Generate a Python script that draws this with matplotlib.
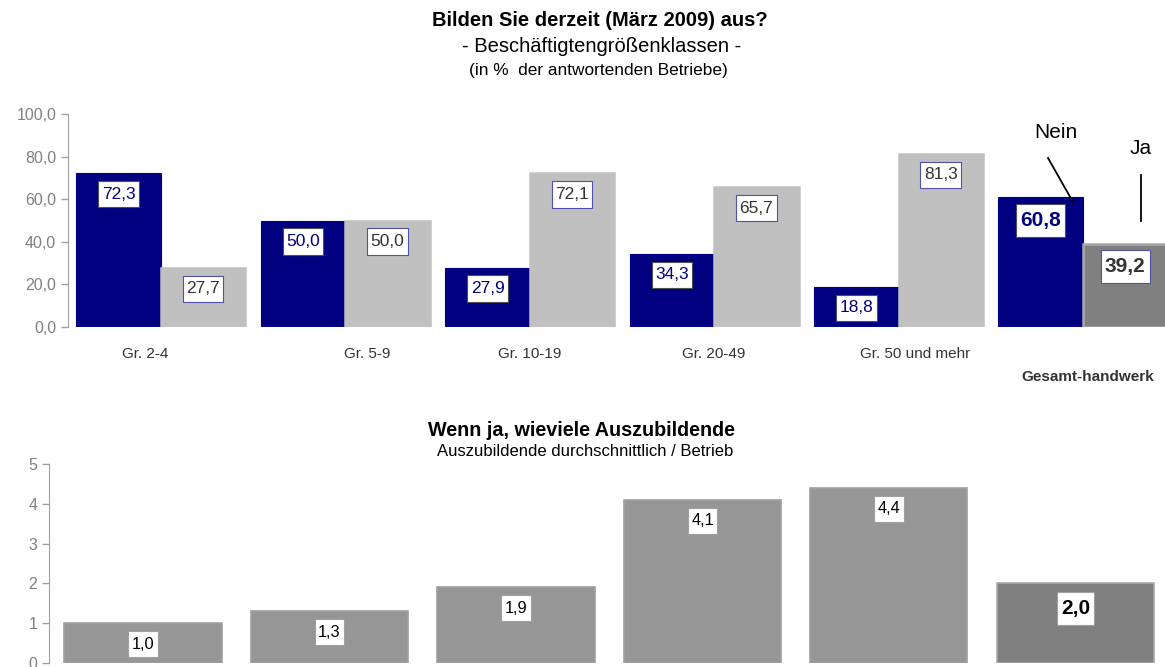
import matplotlib.pyplot as plt
from matplotlib.path import Path
import numpy as np

plt.rcParams['font.family'] = ['Liberation Sans', 'DejaVu Sans']

# Daten oben: Anteil der Betriebe (in %)
gruppen = ['Gr. 2-4', 'Gr. 5-9', 'Gr. 10-19', 'Gr. 20-49', 'Gr. 50 und mehr', 'Gesamt-handwerk']
nein = [72.3, 50.0, 27.9, 34.3, 18.8, 60.8]
ja = [27.7, 50.0, 72.1, 65.7, 81.3, 39.2]

# Daten unten: Auszubildende je Betrieb
azubis = [1.0, 1.3, 1.9, 4.1, 4.4, 2.0]

navy = '#000080'
hellgrau = '#c0c0c0'
dunkelgrau = '#808080'
mittelgrau = '#969696'
achse = '#a0a0a0'

fig = plt.figure(figsize=(11.65, 6.67), dpi=100)
W, H = 1165, 667

def fmt(v):
    return f'{v:.1f}'.replace('.', ',')

# Kasten um die Werte: etwas hoeher als breit gepolstert
def hoher_kasten(x0, y0, width, height, mutation_size):
    px = 0.2 * mutation_size
    py = 0.33 * mutation_size
    x0, y0 = x0 - px, y0 - py
    x1, y1 = x0 + width + 2 * px, y0 + height + 2 * py
    return Path([(x0, y0), (x1, y0), (x1, y1), (x0, y1), (x0, y0)], closed=True)

def achsen_stil(ax):
    for s in ['top', 'right', 'bottom']:
        ax.spines[s].set_visible(False)
    ax.spines['left'].set_color(achse)
    ax.tick_params(axis='y', colors=achse, labelcolor='#808080', length=5, width=1, labelsize=11.5)
    ax.tick_params(axis='x', length=0, labelbottom=False)

# ---- oberes Diagramm
ax1 = fig.add_axes([68 / W, (H - 327) / H, (W - 68) / W, (327 - 114) / H])
x = np.arange(len(gruppen))
bw = 0.458
farbe_ja = [hellgrau] * 5 + [dunkelgrau]
kante_ja = [hellgrau] * 5 + ['#a8a8a8']
ax1.bar(x - bw / 2, nein, bw, color=navy, edgecolor=navy, linewidth=0.8)
ax1.bar(x + bw / 2, ja, bw, color=farbe_ja, edgecolor=kante_ja, linewidth=1.8)
ax1.set_xlim(-0.504, 5.445)
ax1.set_ylim(0, 100)
ax1.set_yticks(np.arange(0, 101, 20))
ax1.set_yticklabels([fmt(v) for v in np.arange(0, 101, 20)])
achsen_stil(ax1)

for i in range(len(gruppen)):
    fett = i == len(gruppen) - 1
    gr = 15 if fett else 12.5
    dy = -23 if fett else -21
    ax1.annotate(fmt(nein[i]), (x[i] - bw / 2, nein[i]), xytext=(0, dy), textcoords='offset pixels',
                 ha='center', va='center', fontsize=gr, color=navy,
                 fontweight='bold' if fett else 'normal',
                 bbox=dict(boxstyle=hoher_kasten, fc='white', ec='#505050', lw=0.8))
    ax1.annotate(fmt(ja[i]), (x[i] + bw / 2, ja[i]), xytext=(0, dy), textcoords='offset pixels',
                 ha='center', va='center', fontsize=gr, color='#333333',
                 fontweight='bold' if fett else 'normal',
                 bbox=dict(boxstyle=hoher_kasten, fc='white', ec='#5050b0', lw=0.8))

# Kategorienbeschriftung
label_x = [145, 367, 530, 714, 915]
for lx, name in zip(label_x, gruppen[:5]):
    fig.text(lx / W, 1 - 354 / H, name, ha='center', va='center', fontsize=11, color='#333333')
fig.text(1088 / W, 1 - 377 / H, gruppen[5], ha='center', va='center', fontsize=11,
         color='#333333', fontweight='bold')

# Nein / Ja Hinweise
fig.text(1056 / W, 1 - 133 / H, 'Nein', ha='center', va='center', fontsize=15)
fig.text(1141 / W, 1 - 148 / H, 'Ja', ha='center', va='center', fontsize=15)
fig.add_artist(plt.Line2D([1048 / W, 1073 / W], [1 - 158 / H, 1 - 202 / H], color='black', lw=1.3))
fig.add_artist(plt.Line2D([1141 / W, 1141 / W], [1 - 175 / H, 1 - 221 / H], color='black', lw=1.3))

# Titel oben
fig.text(600 / W, 1 - 20 / H, 'Bilden Sie derzeit (März 2009) aus?', ha='center', va='center',
         fontsize=14.5, fontweight='bold')
fig.text(602 / W, 1 - 47 / H, '- Beschäftigtengrößenklassen -', ha='center', va='center', fontsize=14.5)
fig.text(598 / W, 1 - 70 / H, '(in %  der antwortenden Betriebe)', ha='center', va='center', fontsize=12.4)

# ---- unteres Diagramm
ax2 = fig.add_axes([49 / W, (H - 663) / H, (W - 49) / W, (663 - 464) / H])
farben2 = [mittelgrau] * 5 + [dunkelgrau]
kanten2 = ['#a0a0a0'] * 5 + ['#a8a8a8']
ax2.bar(x, azubis, 0.842, color=farben2, edgecolor=kanten2, linewidth=1.2)
ax2.set_xlim(-0.504, 5.48)
ax2.set_ylim(0, 5)
ax2.set_yticks(range(0, 6))
achsen_stil(ax2)

for i, v in enumerate(azubis):
    fett = i == len(azubis) - 1
    ax2.annotate(fmt(v), (x[i], v), xytext=(0, -25 if fett else -21), textcoords='offset pixels',
                 ha='center', va='center', fontsize=15 if fett else 11.8, color='black',
                 fontweight='bold' if fett else 'normal',
                 bbox=dict(boxstyle=hoher_kasten, fc='white', ec='#a0a0a0', lw=0.8))

fig.text(581 / W, 1 - 430 / H, 'Wenn ja, wieviele Auszubildende', ha='center', va='center',
         fontsize=14.2, fontweight='bold')
fig.text(585 / W, 1 - 452 / H, 'Auszubildende durchschnittlich / Betrieb', ha='center', va='center',
         fontsize=12)

fig.savefig('out.png', dpi=100)
